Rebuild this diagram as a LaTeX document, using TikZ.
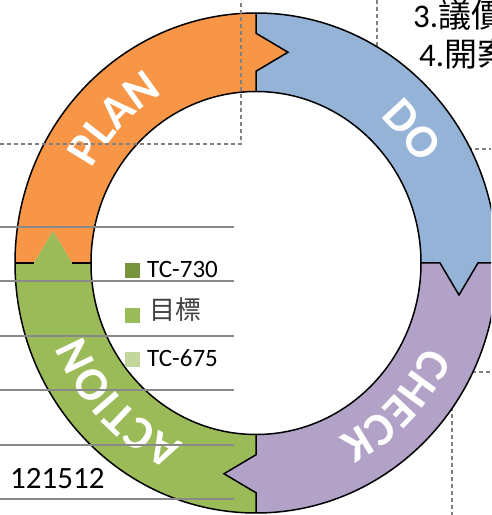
\documentclass[tikz,border=0pt]{standalone}
\usepackage{fontspec}
\setmainfont{Carlito}
\newfontfamily\cjkfont{Noto Sans CJK TC}
\usetikzlibrary{decorations.text}

\definecolor{planorange}{HTML}{F79646}
\definecolor{doblue}{HTML}{95B3D7}
\definecolor{checkpurple}{HTML}{B2A2C7}
\definecolor{actgreen}{HTML}{9BBB59}
\definecolor{legdark}{HTML}{77933C}
\definecolor{leglight}{HTML}{C3D69B}
\definecolor{gridgray}{HTML}{898989}

\newcommand{\ringfont}{\fontsize{47}{51}\selectfont\bfseries}

\begin{document}
\begin{tikzpicture}[x=1pt,y=1pt]
	\tikzset{
		ringedge/.style={black, line width=1.5pt, line join=miter},
		gridline/.style={gridgray, line width=1.5pt},
		dashline/.style={gray, line width=1.5pt, dash pattern=on 4pt off 3pt},
		legbox/.style={rectangle, minimum size=15pt, inner sep=0pt},
		legtext/.style={anchor=base west, inner sep=0pt, font=\fontsize{25}{29}\selectfont},
		toptext/.style={anchor=base west, inner sep=0pt, font=\fontsize{33}{38}\selectfont},
		ringlabel/.style={decorate, decoration={text along path, text align=center, text color=white}}
	}

	\useasboundingbox (0,0) rectangle (491,515);
	\clip (0,0) rectangle (491,515);

	% dashed frames behind the ring
	\draw[dashline] (377,515) -- (377,440);
	\draw[dashline] (440,366) -- (491,366);
	\draw[dashline] (465,143) -- (491,143);
	\draw[dashline] (452,115) -- (452,0);

	% the four parts of the cycle
	\fill[planorange] (15,252) arc[start angle=180, end angle=90, x radius=241, y radius=250]
		-- (256,481.75) -- (288,462.75) -- (256,443.75) -- (256,423.5)
		arc[start angle=90, end angle=180, x radius=165, y radius=171.5]
		-- (72,252) -- (53,284) -- (34,252) -- cycle;
	\fill[doblue] (256,502) arc[start angle=90, end angle=0, x radius=241, y radius=250]
		-- (478,252) -- (459,220) -- (440,252) -- (421,252)
		arc[start angle=0, end angle=90, x radius=165, y radius=171.5]
		-- (256,443.75) -- (288,462.75) -- (256,481.75) -- cycle;
	\fill[checkpurple] (497,252) arc[start angle=0, end angle=-90, x radius=241, y radius=250]
		-- (256,22.25) -- (224,41.25) -- (256,60.25) -- (256,80.5)
		arc[start angle=-90, end angle=0, x radius=165, y radius=171.5]
		-- (440,252) -- (459,220) -- (478,252) -- cycle;
	\fill[actgreen] (256,2) arc[start angle=-90, end angle=-180, x radius=241, y radius=250]
		-- (34,252) -- (53,284) -- (72,252) -- (91,252)
		arc[start angle=180, end angle=270, x radius=165, y radius=171.5]
		-- (256,60.25) -- (224,41.25) -- (256,22.25) -- cycle;

	\draw[ringedge] (256,252) ellipse[x radius=241, y radius=250];
	\draw[ringedge] (256,252) ellipse[x radius=165, y radius=171.5];
	\draw[ringedge] (256,502) -- (256,481.75) -- (288,462.75) -- (256,443.75) -- (256,423.5);
	\draw[ringedge] (497,252) -- (478,252) -- (459,220) -- (440,252) -- (421,252);
	\draw[ringedge] (256,2) -- (256,22.25) -- (224,41.25) -- (256,60.25) -- (256,80.5);
	\draw[ringedge] (15,252) -- (34,252) (72,252) -- (91,252);

	% labels on the ring
	\path[ringlabel, decoration={text={|\ringfont|PLAN}}]
		(256,252) ++(180:187 and 195) arc[start angle=180, end angle=90, x radius=187, y radius=195];
	\path[ringlabel, decoration={text={|\ringfont|DO}}]
		(256,252) ++(85:187 and 195) arc[start angle=85, end angle=-5, x radius=187, y radius=195];
	\path[ringlabel, decoration={text={|\ringfont|CHECK}}]
		(256,252) ++(0:187 and 195) arc[start angle=0, end angle=-90, x radius=187, y radius=195];
	\path[ringlabel, decoration={text={|\ringfont|ACTION}}]
		(256,252) ++(-90:187 and 195) arc[start angle=-90, end angle=-180, x radius=187, y radius=195];

	% chart lines over the ring
	\draw[dashline] (0,371) -- (241,371) -- (241,515);
	\foreach \gy in {288, 234, 179, 125, 70, 16} {
		\draw[gridline] (0,\gy) -- (234,\gy);
	}

	% legend
	\node[legbox, fill=legdark] (box730) at (132.5,244.5) {};
	\node[legbox, fill=actgreen] (boxgoal) at (132.5,199.5) {};
	\node[legbox, fill=leglight] (box675) at (132.5,155) {};
	\node[legtext] (leg730) at (147,237.7) {TC-730};
	\node[legtext, font=\fontsize{26}{30}\selectfont\cjkfont, text=black!75] (leggoal) at (149,195) {目標};
	\node[legtext] (leg675) at (147,148.3) {TC-675};

	\node[anchor=base west, inner sep=0pt, font=\fontsize{31}{36}\selectfont] (date) at (10,27) {121512};
	\node[toptext] (step3) at (413,487) {3.{\cjkfont 議價}};
	\node[toptext] (step4) at (419,448) {4.{\cjkfont 開案}};
\end{tikzpicture}
\end{document}
